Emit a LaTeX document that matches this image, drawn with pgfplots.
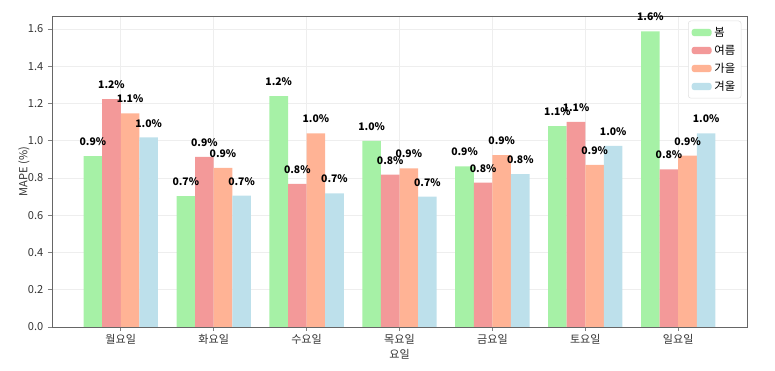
\documentclass[border=0pt]{standalone}
\usepackage{pgfplots}
\pgfplotsset{compat=1.18}
\usepackage{fontspec}
\setmainfont{Noto Sans CJK KR}
\definecolor{cg}{RGB}{166,241,166}
\definecolor{cr}{RGB}{243,153,153}
\definecolor{co}{RGB}{255,179,149}
\definecolor{cb}{RGB}{189,224,235}
\definecolor{gridc}{RGB}{238,238,238}
\begin{document}
\begin{tikzpicture}
\useasboundingbox (-39pt,-33pt) rectangle (542.25pt,245.25pt);
\begin{axis}[
  at={(0,0)}, anchor=south west,
  scale only axis, width=521.25pt, height=233.25pt,
  xmin=-0.74, xmax=6.74, ymin=0, ymax=1.67,
  ybar, bar width=0.2,
  xtick={0,1,2,3,4,5,6},
  xticklabels={월요일,화요일,수요일,목요일,금요일,토요일,일요일},
  ytick={0,0.2,0.4,0.6,0.8,1.0,1.2,1.4,1.6},
  yticklabel style={/pgf/number format/.cd,fixed,fixed zerofill,precision=1},
  /pgf/number format/assume math mode=true,
  ticklabel style={font=\fontsize{8.3}{10}\selectfont, text=black!80},
  xticklabel style={yshift=1pt},
  xtick pos=bottom, ytick pos=left,
  tick align=outside, major tick length=3pt,
  tick style={gray, line width=0.5pt},
  axis line style={black!60, line width=0.6pt},
  grid=major, major grid style={gridc, line width=0.5pt},
  xlabel={요일}, ylabel={MAPE (\%)},
  label style={font=\fontsize{8.3}{10}\selectfont, text=black!80},
  xlabel style={yshift=3pt},
  ylabel style={yshift=-8pt},
  nodes near coords={\pgfmathprintnumber[fixed,fixed zerofill,precision=1]{\pgfplotspointmeta}\%},
  nodes near coords style={font=\bfseries\fontsize{7.8}{9}\selectfont, inner sep=1pt, yshift=6.5pt, text=black},
  legend style={at={(0.992,0.985)}, anchor=north east, draw=black!12, rounded corners=2pt,
    font=\fontsize{8.5}{9}\selectfont, row sep=1pt, inner sep=2.5pt},
  legend cell align=left,
  legend image code/.code={\fill[#1] (0pt,-2.75pt) rectangle (15pt,2.75pt);},
]
\addplot[fill=cg, draw=none, bar shift=-0.3] coordinates {(0,0.917) (1,0.703) (2,1.240) (3,0.999) (4,0.863) (5,1.079) (6,1.588)};
\addplot[fill=cr, draw=none, bar shift=-0.1] coordinates {(0,1.224) (1,0.914) (2,0.768) (3,0.818) (4,0.775) (5,1.102) (6,0.847)};
\addplot[fill=co, draw=none, bar shift=0.1] coordinates {(0,1.147) (1,0.855) (2,1.040) (3,0.852) (4,0.923) (5,0.871) (6,0.920)};
\addplot[fill=cb, draw=none, bar shift=0.3] coordinates {(0,1.018) (1,0.705) (2,0.718) (3,0.700) (4,0.821) (5,0.972) (6,1.040)};
\legend{봄,여름,가을,겨울}
\end{axis}
\end{tikzpicture}
\end{document}
